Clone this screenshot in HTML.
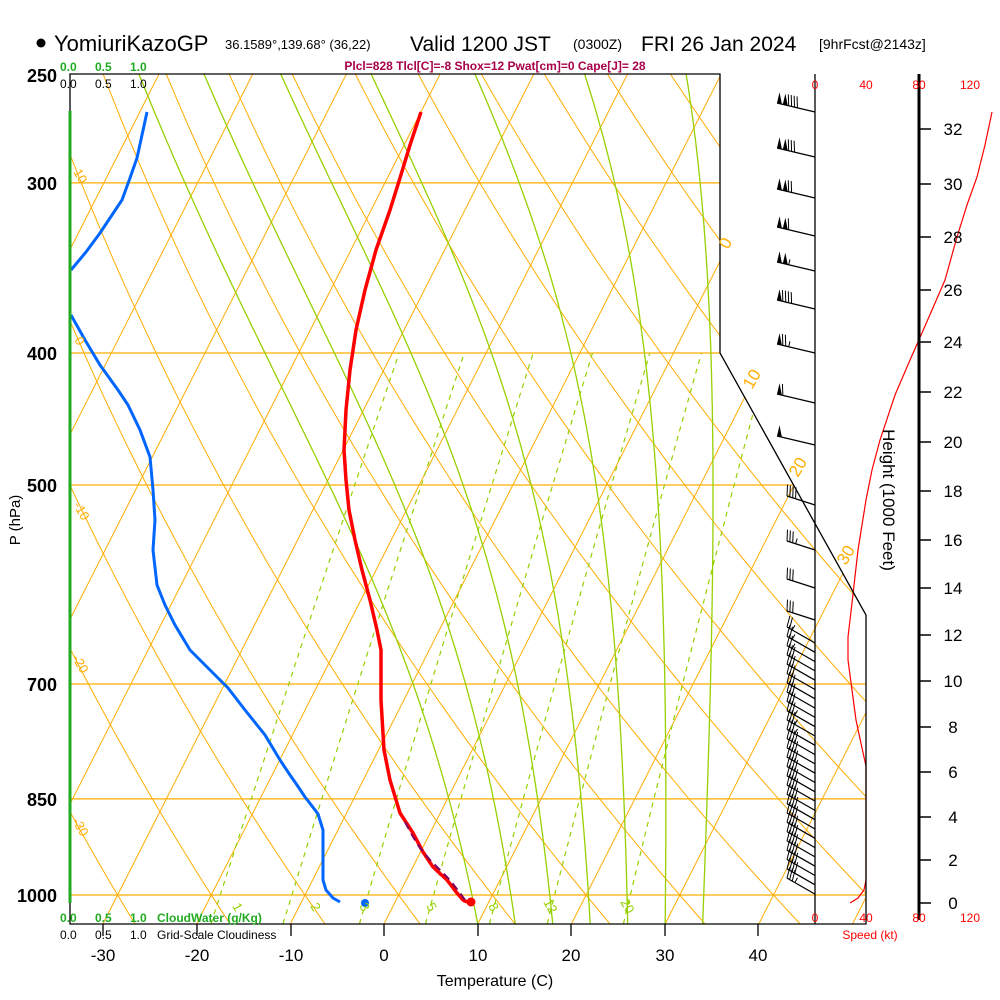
<!DOCTYPE html>
<html><head><meta charset="utf-8">
<style>
html,body{margin:0;padding:0;background:#fff;}
svg{display:block;font-family:"Liberation Sans",Arial,sans-serif;}
</style></head>
<body>
<svg id="s" width="1000" height="1000" viewBox="0 0 1000 1000" xmlns="http://www.w3.org/2000/svg">
<defs>
<clipPath id="cp"><polygon points="70,74 720,74 720,353 866,615 866,924 70,924"/></clipPath>
</defs>
<rect width="1000" height="1000" fill="#fff"/>
<g id="grid" clip-path="url(#cp)"></g>
<g id="data"></g>
<g id="barbs"></g>
<!-- frame -->
<polyline points="70,111 70,74 720,74 720,353 866,615 866,924 70,924 70,903" fill="none" stroke="#000" stroke-width="1.3"/>
<line x1="70" y1="111" x2="70" y2="903" stroke="#22aa22" stroke-width="3"/>
<line x1="815" y1="74" x2="815" y2="924" stroke="#000" stroke-width="1.3"/>
<line x1="919" y1="74" x2="919" y2="920" stroke="#000" stroke-width="3"/>
<g id="hticks" stroke="#000" stroke-width="1.5"></g>
<!-- bottom ticks -->
<g stroke="#000" stroke-width="1.3">
<line x1="103" y1="924" x2="103" y2="936"/><line x1="197" y1="924" x2="197" y2="936"/>
<line x1="291" y1="924" x2="291" y2="936"/><line x1="384" y1="924" x2="384" y2="936"/>
<line x1="478" y1="924" x2="478" y2="936"/><line x1="571" y1="924" x2="571" y2="936"/>
<line x1="665" y1="924" x2="665" y2="936"/><line x1="758" y1="924" x2="758" y2="936"/>
</g>
<!-- title -->
<circle cx="41" cy="43" r="4.5" fill="#000"/>
<text x="54" y="51" font-size="22" fill="#000">YomiuriKazoGP</text>
<text x="225" y="49" font-size="13">36.1589°,139.68° (36,22)</text>
<text x="410" y="51" font-size="21">Valid 1200 JST</text>
<text x="573" y="49" font-size="14">(0300Z)</text>
<text x="641" y="51" font-size="21">FRI 26 Jan 2024</text>
<text x="819" y="49" font-size="14">[9hrFcst@2143z]</text>
<text x="495" y="70" font-size="12" font-weight="bold" fill="#a8004a" text-anchor="middle">Plcl=828 Tlcl[C]=-8 Shox=12 Pwat[cm]=0 Cape[J]= 28</text>
<!-- cloud scale labels -->
<g font-size="12" font-weight="bold">
<text x="60" y="71" fill="#22aa22">0.0</text><text x="95" y="71" fill="#22aa22">0.5</text><text x="130" y="71" fill="#22aa22">1.0</text>
<text x="60" y="88" fill="#000" font-weight="normal">0.0</text><text x="95" y="88" font-weight="normal">0.5</text><text x="130" y="88" font-weight="normal">1.0</text>
<text x="60" y="922" fill="#22aa22">0.0</text><text x="95" y="922" fill="#22aa22">0.5</text><text x="130" y="922" fill="#22aa22">1.0</text>
<text x="157" y="922" fill="#22aa22">CloudWater (g/Kg)</text>
<text x="60" y="939" font-weight="normal">0.0</text><text x="95" y="939" font-weight="normal">0.5</text><text x="130" y="939" font-weight="normal">1.0</text>
<text x="157" y="939" font-weight="normal">Grid-Scale Cloudiness</text>
</g>
<!-- pressure labels -->
<g font-size="18" font-weight="bold" text-anchor="end">
<text x="57" y="82">250</text><text x="57" y="190">300</text><text x="57" y="360">400</text>
<text x="57" y="492">500</text><text x="57" y="691">700</text><text x="57" y="806">850</text><text x="57" y="902">1000</text>
</g>
<text transform="translate(20,520) rotate(-90)" font-size="15" text-anchor="middle">P (hPa)</text>
<!-- temperature labels -->
<g font-size="17" text-anchor="middle">
<text x="103" y="961">-30</text><text x="197" y="961">-20</text><text x="291" y="961">-10</text><text x="384" y="961">0</text>
<text x="478" y="961">10</text><text x="571" y="961">20</text><text x="665" y="961">30</text><text x="758" y="961">40</text>
</g>
<text x="495" y="986" font-size="16" text-anchor="middle">Temperature (C)</text>
<!-- speed labels -->
<g font-size="12" fill="#ff0000" text-anchor="middle">
<text x="815" y="89">0</text><text x="866" y="89">40</text><text x="919" y="89">80</text><text x="970" y="89">120</text>
<text x="815" y="922">0</text><text x="866" y="922">40</text><text x="919" y="922">80</text><text x="970" y="922">120</text>
<text x="870" y="939">Speed (kt)</text>
</g>
<!-- height labels -->
<g font-size="17" text-anchor="middle">
<text x="953" y="135">32</text><text x="953" y="190">30</text><text x="953" y="243">28</text><text x="953" y="296">26</text>
<text x="953" y="348">24</text><text x="953" y="398">22</text><text x="953" y="448">20</text><text x="953" y="497">18</text>
<text x="953" y="546">16</text><text x="953" y="594">14</text><text x="953" y="641">12</text><text x="953" y="687">10</text>
<text x="953" y="733">8</text><text x="953" y="778">6</text><text x="953" y="823">4</text><text x="953" y="866">2</text><text x="953" y="909">0</text>
</g>
<text transform="translate(883,500) rotate(90)" font-size="17" text-anchor="middle">Height (1000 Feet)</text>
<!-- isotherm / adiabat labels -->
<g font-size="17" fill="#ffad00">
<text transform="translate(728,250) rotate(-60)">0</text>
<text transform="translate(752,390) rotate(-60)">10</text>
<text transform="translate(798,478) rotate(-60)">20</text>
<text transform="translate(846,566) rotate(-60)">30</text>
</g>
<g font-size="13" fill="#ffad00">
<text transform="translate(73,172) rotate(60)">10</text>
<text transform="translate(74,340) rotate(60)">0</text>
<text transform="translate(73,505) rotate(60)">-10</text>
<text transform="translate(72,658) rotate(60)">-20</text>
<text transform="translate(72,821) rotate(60)">-30</text>
</g>
<g font-size="13" fill="#96d000">
<text transform="translate(232,906) rotate(60)">1</text>
<text transform="translate(310,906) rotate(60)">2</text>
<text transform="translate(359,906) rotate(60)">3</text>
<text transform="translate(426,906) rotate(60)">5</text>
<text transform="translate(488,906) rotate(60)">8</text>
<text transform="translate(543,902) rotate(60)">12</text>
<text transform="translate(620,902) rotate(60)">20</text>
</g>
</svg>
<script>
(function(){
var NS="http://www.w3.org/2000/svg";
function X(T,y){return 384+9.37*T+0.507*(924-y);}
function Y(p){return 895-591.5*Math.log(1000/p);}
function el(par,tag,at){var e=document.createElementNS(NS,tag);for(var k in at)e.setAttribute(k,at[k]);par.appendChild(e);return e;}
var g=document.getElementById('grid');
var OR="#ffad00",GR="#96d000";
// pressure lines
[1000,850,700,500,400,300].forEach(function(p){var y=Y(p);el(g,'line',{x1:70,y1:y,x2:900,y2:y,stroke:OR,'stroke-width':1.2});});
// isotherms
for(var T=-160;T<=60;T+=10){el(g,'line',{x1:X(T,924),y1:924,x2:X(T,74),y2:74,stroke:OR,'stroke-width':1});}
// dry adiabats
for(var th=-60;th<=220;th+=10){var d="";for(var p=1060;p>=240;p-=10){var Tk=(th+273.15)*Math.pow(p/1000,0.2857);var y=Y(p);d+=(d?"L":"M")+X(Tk-273.15,y).toFixed(1)+","+y.toFixed(1);}el(g,'path',{d:d,fill:"none",stroke:OR,'stroke-width':1});}
// moist adiabats
function es(Tc){return 6.112*Math.exp(17.67*Tc/(Tc+243.5));}
function dTdp(Tk,p){var Tc=Tk-273.15;var e=es(Tc);var rs=0.622*e/(p-e);var Lv=2.5e6,Rd=287,cp=1004;
 return ((Rd*Tk+Lv*rs)/(cp+Lv*Lv*rs*0.622/(Rd*Tk*Tk)))/p;}
[10,14,18,22,26,30,34].forEach(function(T0){var p=1050,Tk=T0+273.15,d="";var y=Y(p);d="M"+X(T0,y).toFixed(1)+","+y.toFixed(1);
 while(p>235){var h=-2;var k1=dTdp(Tk,p),k2=dTdp(Tk+h/2*k1,p+h/2);Tk+=h*k2;p+=h;y=Y(p);d+="L"+X(Tk-273.15,y).toFixed(1)+","+y.toFixed(1);}
 el(g,'path',{d:d,fill:"none",stroke:GR,'stroke-width':1.3});});
// mixing ratio
function Td(e){var l=Math.log(e/6.112);return 243.5*l/(17.67-l);}
[0.85,1.6,3,5,8,12,20].forEach(function(w){var d="";for(var p=1050;p>=400;p-=10){var e=w*p/(622+w);var y=Y(p);d+=(d?"L":"M")+X(Td(e),y).toFixed(1)+","+y.toFixed(1);}
 el(g,'path',{d:d,fill:"none",stroke:GR,'stroke-width':1.2,'stroke-dasharray':"5,5"});});
var D=document.getElementById('data');
// height ticks
var ht=document.getElementById('hticks');
[129,184,237,290,342,392,442,491,540,588,635,681,727,772,817,860,903].forEach(function(y){el(ht,'line',{x1:919,y1:y,x2:931,y2:y});});
// speed curve
el(D,'polyline',{points:"850,903 858,898 864,890 866,880 866,850 866,800 866,766 862,748 856,720 852,690 848,660 848,637 852,603 858,550 866,500 872,470 880,440 895,395 910,360 918,342 932,310 945,280 957,237 967,205 977,177 985,145 992,112",fill:"none",stroke:"#ff0000",'stroke-width':1.2});
// dewpoint (blue)
el(D,'polyline',{points:"147,112 142,135 137,158 130,178 122,200 110,218 100,233 86,252 71,270",fill:"none",stroke:"#0066ff",'stroke-width':3});
el(D,'polyline',{points:"71,315 85,340 100,365 118,390 128,405 140,430 150,457 153,490 155,520 153,550 157,585 165,605 175,625 190,650 210,670 228,688 245,710 265,735 280,760 290,775 297,785 305,797 312,806 318,814 323,830 323,855 323,880 326,890 333,898 340,902",fill:"none",stroke:"#0066ff",'stroke-width':3});
el(D,'circle',{cx:365,cy:903,r:4,fill:"#0066ff"});
// temperature (red)
el(D,'polyline',{points:"421,112 410,145 400,178 390,210 376,250 365,290 356,330 350,370 346,410 344,450 346,480 349,510 355,540 362,570 370,600 377,630 381,650 381,700 384,750 390,780 400,813 413,833 423,852 433,867 447,880 457,893 463,900 467,902",fill:"none",stroke:"#ff0000",'stroke-width':3.5,'stroke-linejoin':'round'});
el(D,'circle',{cx:471,cy:902,r:4.5,fill:"#ff0000"});
// parcel
el(D,'polyline',{points:"405,822 412,835 420,848 430,860 440,870 448,878 453,884 460,893 465,900",fill:"none",stroke:"#800060",'stroke-width':2,'stroke-dasharray':"8,5"});
// barbs
var B=document.getElementById('barbs');
function spd(y){var pts=[[112,138],[177,126],[237,111],[280,102],[342,80],[360,74],[395,63],[440,51],[470,45],[500,40],[550,33],[603,29],[637,26],[690,29],[720,32],[748,37],[766,40],[880,40],[895,35],[903,27]];
 for(var i=0;i<pts.length-1;i++){if(y>=pts[i][0]&&y<=pts[i+1][0]){var f=(y-pts[i][0])/(pts[i+1][0]-pts[i][0]);return pts[i][1]+f*(pts[i+1][1]-pts[i][1]);}}return 30;}
function barb(y,dx,dy){var sx=815,sy=y,ex=815+dx,ey=y+dy;var L=Math.sqrt(dx*dx+dy*dy);var ux=dx/L,uy=dy/L;
 // perpendicular pointing up
 var px=uy,py=-ux; if(py>0){px=-px;py=-py;}
 el(B,'line',{x1:sx,y1:sy,x2:ex,y2:ey,stroke:"#000",'stroke-width':1.2});
 var s=Math.round(spd(y)/5)*5;var pos=0;var len=11;
 while(s>=50){var ax=ex-ux*pos,ay=ey-uy*pos,bx=ex-ux*(pos+5),by=ey-uy*(pos+5);
  el(B,'polygon',{points:ax+","+ay+" "+bx+","+by+" "+(ax+px*len+ux*0)+","+(ay+py*len),fill:"#000"});pos+=6;s-=50;}
 while(s>=10){var ax=ex-ux*pos,ay=ey-uy*pos;el(B,'line',{x1:ax,y1:ay,x2:ax+px*len+ux*3,y2:ay+py*len+uy*3,stroke:"#000",'stroke-width':1});pos+=3;s-=10;}
 if(s>=5){var ax=ex-ux*pos,ay=ey-uy*pos;el(B,'line',{x1:ax,y1:ay,x2:ax+px*len*0.5,y2:ay+py*len*0.5,stroke:"#000",'stroke-width':1});}
}
[112,157,198,236,271,309,353,403,445].forEach(function(y){barb(y,-38,-9);});
[505,550,588,620].forEach(function(y){barb(y,-28,-9);});
for(var y=643;y<=895;y+=9.3){barb(y,-28,-16);}
})();
</script>
</body></html>
